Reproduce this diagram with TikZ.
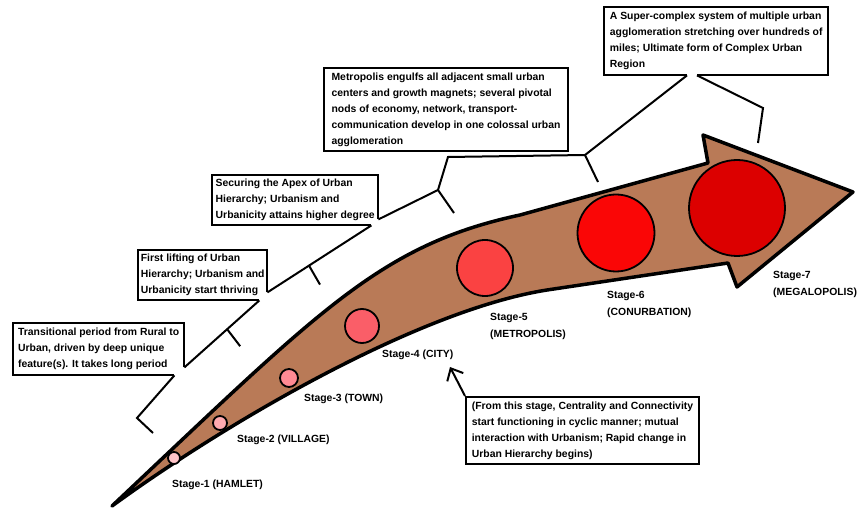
\documentclass[tikz,border=0pt]{standalone}
\usepackage{fontspec}
\setmainfont{Liberation Sans}
\usepackage{tikz}
\usetikzlibrary{arrows.meta,calc}
\definecolor{earth}{HTML}{B97A57}
\definecolor{hamlet}{HTML}{FFC4C8}
\definecolor{village}{HTML}{FFAAB0}
\definecolor{town}{HTML}{FF8A94}
\definecolor{city}{HTML}{FA5E68}
\definecolor{metro}{HTML}{FA4242}
\definecolor{conurb}{HTML}{FA0606}
\definecolor{megalo}{HTML}{DC0000}

\begin{document}
\begin{tikzpicture}[x=1pt,y=-1pt,
  body/.style={draw=black,fill=earth,line width=3.5pt,line join=round},
  hub/.style={circle,draw=black,line width=1.8pt,inner sep=0pt},
  lbl/.style={anchor=north west,inner sep=0pt,align=left,font=\fontsize{10.4}{17}\selectfont\bfseries},
  note/.style={anchor=north west,inner sep=0pt,align=left,font=\fontsize{10.4}{16}\selectfont\bfseries},
  frame/.style={note,draw,line width=2pt},
  brk/.style={line width=2pt,line join=miter},
  arr/.style={-{Straight Barb[length=10pt,width=18pt]},line width=2pt}]
  \useasboundingbox[fill=white] (0,0) rectangle (857,510);
  \draw[body] (112,506) .. controls (320,310) and (380,245) .. (520,215) -- (708,163)
    -- (703,135) -- (853,192) -- (737,287) -- (728,263) -- (547,290)
    .. controls (420,310) and (230,420) .. (112,506) -- cycle;
  \node[hub,fill=hamlet,minimum size=12pt] (s1) at (174,458) {};
  \node[hub,fill=village,minimum size=14pt] (s2) at (220,423) {};
  \node[hub,fill=town,minimum size=18pt] (s3) at (289,378) {};
  \node[hub,fill=city,minimum size=34pt] (s4) at (362,326) {};
  \node[hub,fill=metro,minimum size=56pt] (s5) at (485,268) {};
  \node[hub,fill=conurb,minimum size=77pt] (s6) at (616,233) {};
  \node[hub,fill=megalo,minimum size=96pt] (s7) at (737,208) {};
  \node[lbl] (l1) at (172,479.5) {Stage-1 (HAMLET)};
  \node[lbl] (l2) at (237,434.5) {Stage-2 (VILLAGE)};
  \node[lbl] (l3) at (304,393.5) {Stage-3 (TOWN)};
  \node[lbl] (l4) at (382,349.5) {Stage-4 (CITY)};
  \node[lbl] (l5) at (490,313.5) {Stage-5\\(METROPOLIS)};
  \node[lbl] (l6) at (607,291.5) {Stage-6\\(CONURBATION)};
  \node[lbl] (l7) at (773,271.5) {Stage-7\\(MEGALOPOLIS)};
  \node[note,minimum width=171pt,minimum height=52pt] (b1) at (13,323)
    {Transitional period from Rural to\\Urban, driven by deep unique\\feature(s). It takes long period};
  \node[note,minimum width=129pt,minimum height=50pt] (b2) at (138,250)
    {First lifting of Urban\\Hierarchy; Urbanism and\\Urbanicity start thriving};
  \node[note,minimum width=166pt,minimum height=50pt] (b3) at (212,175)
    {Securing the Apex of Urban\\Hierarchy; Urbanism and\\Urbanicity attains higher degree};
  \node[frame,minimum width=244pt,minimum height=83pt] (b4) at (323,67)
    {Metropolis engulfs all adjacent small urban\\centers and growth magnets; several pivotal\\nods of economy, network, transport-\\communication develop in one colossal urban\\agglomeration};
  \node[note,minimum width=224pt,minimum height=68pt] (b5) at (604,7)
    {A Super-complex system of multiple urban\\agglomeration stretching over hundreds of\\miles; Ultimate form of Complex Urban\\Region};
  \node[frame,minimum width=233pt,minimum height=67pt] (b6) at (465,396)
    {(From this stage, Centrality and Connectivity\\start functioning in cyclic manner; mutual\\interaction with Urbanism; Rapid change in\\Urban Hierarchy begins)};
  \coordinate (b1c) at ($(b1.south east)+(-10,0)$);
  \coordinate (b1d) at ($(b1.south east)+(0,-8)$);
  \coordinate (b2c) at ($(b2.south east)+(-8,0)$);
  \coordinate (b2d) at ($(b2.south east)+(0,-8)$);
  \coordinate (b3c) at ($(b3.south east)+(-7,0)$);
  \coordinate (b3d) at ($(b3.south east)+(0,-6)$);
  \coordinate (b5c) at ($(b5.south west)+(83,0)$);
  \coordinate (b5d) at ($(b5.south west)+(93,0)$);
  \draw[brk] (b1d) |- (b1.north west) |- (b1c);
  \draw[brk] (b2d) |- (b2.north west) |- (b2c);
  \draw[brk] (b3d) |- (b3.north west) |- (b3c);
  \draw[brk] (b5c) -| (b5.north west) -| (b5.south east) -- (b5d);
  \coordinate (e0) at (137,418);
  \coordinate (t0) at (153,433);
  \coordinate (k12) at ($(b1d)!0.57!(b2c)$);
  \coordinate (t12) at ($(k12)+(13,17)$);
  \coordinate (k23) at ($(b2d)!0.4!(b3c)$);
  \coordinate (t23) at ($(k23)+(11,19)$);
  \coordinate (y1) at (438,190);
  \coordinate (t1) at (454,213);
  \coordinate (h1) at (448,157);
  \coordinate (y2) at (585,155);
  \coordinate (t2) at (598,182);
  \coordinate (k5) at (763,108);
  \coordinate (t5) at (758,143);
  \coordinate (p4) at (450,367);
  \draw[brk] (t0) -- (e0) -- (b1c);
  \draw[brk] (b1d) -- (b2c);
  \draw[brk] (k12) -- (t12);
  \draw[brk] (b2d) -- (b3c);
  \draw[brk] (k23) -- (t23);
  \draw[brk] (b3d) -- (y1) -- (h1) -- (y2) -- (b5c);
  \draw[brk] (y1) -- (t1);
  \draw[brk] (y2) -- (t2);
  \draw[brk] (b5d) -- (k5) -- (t5);
  \draw[arr] (b6.north west) -- (p4);
\end{tikzpicture}
\end{document}
